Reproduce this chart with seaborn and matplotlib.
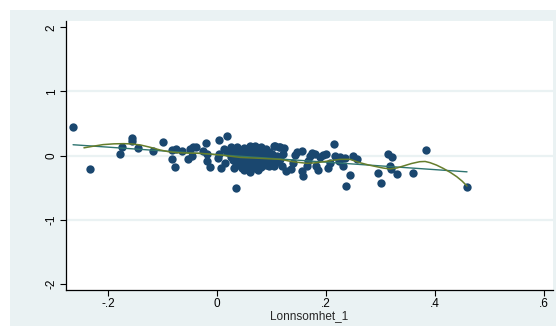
import numpy as np
import pandas as pd
import matplotlib
matplotlib.use("Agg")
import matplotlib.pyplot as plt
from matplotlib.patches import Rectangle
import seaborn as sns

# Observations: profitability (lagged) vs. outcome
lonnsomhet_1 = [
    -0.265, -0.233, -0.178, -0.175, -0.156, -0.156, -0.145, -0.118, -0.099,
    -0.084, -0.083, -0.078, -0.075, -0.064, -0.053, -0.050, -0.044, -0.040,
    -0.046, -0.026, -0.020, -0.018, -0.018, -0.014, 0.003, 0.003, 0.001,
    0.007, 0.012, 0.014, 0.017, 0.018, 0.025, 0.029, 0.031, 0.035, 0.035,
    0.037,
    # dense group
    0.025, 0.030, 0.030, 0.035,
    0.040, 0.040, 0.040, 0.045, 0.045, 0.045,
    0.050, 0.050, 0.050, 0.050, 0.055, 0.055, 0.055,
    0.060, 0.060, 0.060, 0.060, 0.060, 0.065, 0.065, 0.065, 0.065,
    0.070, 0.070, 0.070, 0.070, 0.070, 0.070,
    0.075, 0.075, 0.075, 0.075, 0.075,
    0.080, 0.080, 0.080, 0.080, 0.080, 0.085, 0.085, 0.085,
    0.090, 0.090, 0.090, 0.090, 0.095, 0.095, 0.095, 0.095,
    0.100, 0.100, 0.100, 0.105, 0.105, 0.105, 0.110, 0.110, 0.115, 0.115,
    # right side
    0.106, 0.114, 0.122, 0.121, 0.119, 0.127, 0.135, 0.139, 0.143, 0.147,
    0.155, 0.157, 0.156, 0.164, 0.166, 0.171, 0.175, 0.179, 0.181, 0.186,
    0.189, 0.194, 0.200, 0.203, 0.208, 0.215, 0.216, 0.223, 0.226, 0.231,
    0.235, 0.237, 0.244, 0.250, 0.256, 0.296, 0.301, 0.314, 0.321, 0.318,
    0.320, 0.330, 0.360, 0.383, 0.459,
]
outcome = [
    0.445, -0.204, 0.016, 0.14, 0.28, 0.22, 0.12, 0.07, 0.21,
    -0.06, 0.09, -0.18, 0.10, 0.07, -0.05, 0.10, 0.13, 0.14,
    0.00, 0.07, 0.19, 0.03, -0.08, -0.18, 0.03, 0.24, -0.04,
    -0.20, 0.10, -0.11, 0.31, 0.05, 0.14, -0.07, -0.19, -0.50, 0.04,
    0.13,
    -0.03, -0.06, 0.05, -0.12,
    0.02, -0.08, -0.15, 0.08, -0.03, -0.20,
    0.12, 0.00, -0.10, -0.22, 0.05, -0.05, -0.18,
    0.15, 0.08, -0.02, -0.12, -0.25, 0.13, 0.03, -0.07, -0.16,
    0.15, 0.10, 0.00, -0.04, -0.10, -0.20,
    0.12, 0.05, -0.06, -0.14, -0.22,
    0.14, 0.02, -0.03, -0.09, -0.18, 0.08, -0.01, -0.12,
    0.10, 0.04, -0.06, -0.15, 0.06, -0.02, -0.10, -0.17,
    0.03, -0.08, -0.13, 0.15, -0.04, -0.16, 0.00, -0.10, 0.13, -0.06,
    0.15, 0.13, 0.12, 0.03, -0.16, -0.24, -0.21, -0.11, 0.005, 0.06,
    0.07, -0.32, -0.24, -0.17, -0.08, -0.005, 0.04, 0.03, -0.16, -0.23,
    -0.02, 0.005, 0.03, -0.20, -0.12, 0.18, -0.005, -0.08, -0.02, -0.17,
    -0.04, -0.48, -0.31, -0.01, -0.05, -0.27, -0.43, 0.016, -0.03, -0.16,
    -0.21, -0.29, -0.27, 0.08, -0.49,
]

# Smoothed curve (spline through band medians)
smooth_x = [-0.245, -0.228, -0.210, -0.190, -0.172, -0.156, -0.141, -0.123,
            -0.105, -0.090, -0.074, -0.052, -0.031, 0.006, 0.042, 0.079,
            0.116, 0.134, 0.152, 0.165, 0.180, 0.195, 0.210, 0.226, 0.244,
            0.262, 0.278, 0.293, 0.305, 0.317, 0.330, 0.342, 0.357, 0.372,
            0.382, 0.391, 0.403, 0.415, 0.428, 0.440, 0.450, 0.459]
smooth_y = [0.120, 0.145, 0.170, 0.182, 0.185, 0.180, 0.164, 0.128,
            0.086, 0.060, 0.044, 0.037, 0.034, 0.008, -0.030, -0.044,
            -0.060, -0.090, -0.110, -0.122, -0.115, -0.097, -0.078, -0.060, -0.060,
            -0.112, -0.148, -0.175, -0.196, -0.210, -0.195, -0.164, -0.125, -0.097,
            -0.093, -0.112, -0.150, -0.200, -0.262, -0.330, -0.400, -0.477]

x_ticks = [-0.2, 0.0, 0.2, 0.4, 0.6]
x_tick_labels = ["-.2", "0", ".2", ".4", ".6"]
y_ticks = [-2, -1, 0, 1, 2]
y_tick_labels = ["-2", "-1", "0", "1", "2"]

df = pd.DataFrame({"Lonnsomhet_1": lonnsomhet_1, "y": outcome})
curve = pd.DataFrame({"x": smooth_x, "y": smooth_y})

sns.set_style("white")
plt.rcParams["font.family"] = ["Liberation Sans", "DejaVu Sans"]

W, H = 556, 326
fig = plt.figure(figsize=(W / 100, H / 100), dpi=100, facecolor="white")
bg = "#EAF2F3"
fig.add_artist(Rectangle((10 / W, 0), 1 - 10 / W, 1 - 10 / H,
                         transform=fig.transFigure, facecolor=bg,
                         edgecolor="none", zorder=-10))

ax = fig.add_axes([66 / W, (H - 290) / H, (553 - 66) / W, (290 - 21) / H])
ax.set_zorder(1)
ax.set_facecolor("white")

for g in [-1, 0, 1]:
    ax.axhline(g, color=bg, lw=1.6, zorder=0)

sns.scatterplot(data=df, x="Lonnsomhet_1", y="y", ax=ax, color="#1A476F",
                s=36, linewidth=0, zorder=2, legend=False)
sns.regplot(data=df, x="Lonnsomhet_1", y="y", ax=ax, scatter=False, ci=None,
            truncate=True, line_kws={"color": "#2E7470", "lw": 1.0, "zorder": 3})
sns.lineplot(data=curve, x="x", y="y", ax=ax, sort=False, color="#667D2C",
             lw=1.1, zorder=4)

ax.set_xlim(-0.278, 0.617)
ax.set_ylim(-2.1, 2.1)
ax.set_xticks(x_ticks)
ax.set_xticklabels(x_tick_labels)
ax.set_yticks(y_ticks)
ax.set_yticklabels(y_tick_labels, rotation=90, va="center")
ax.tick_params(axis="both", direction="out", length=4, width=0.8,
               color="black", labelsize=8.5, labelcolor="black", pad=2,
               bottom=True, left=True)
ax.set_xlabel("Lonnsomhet_1", fontsize=8.5, labelpad=0)
ax.set_ylabel("")
for side in ["top", "right"]:
    ax.spines[side].set_visible(False)
for side in ["left", "bottom"]:
    ax.spines[side].set_color("black")
    ax.spines[side].set_linewidth(0.9)

fig.savefig("out.png", dpi=100, facecolor="white")
